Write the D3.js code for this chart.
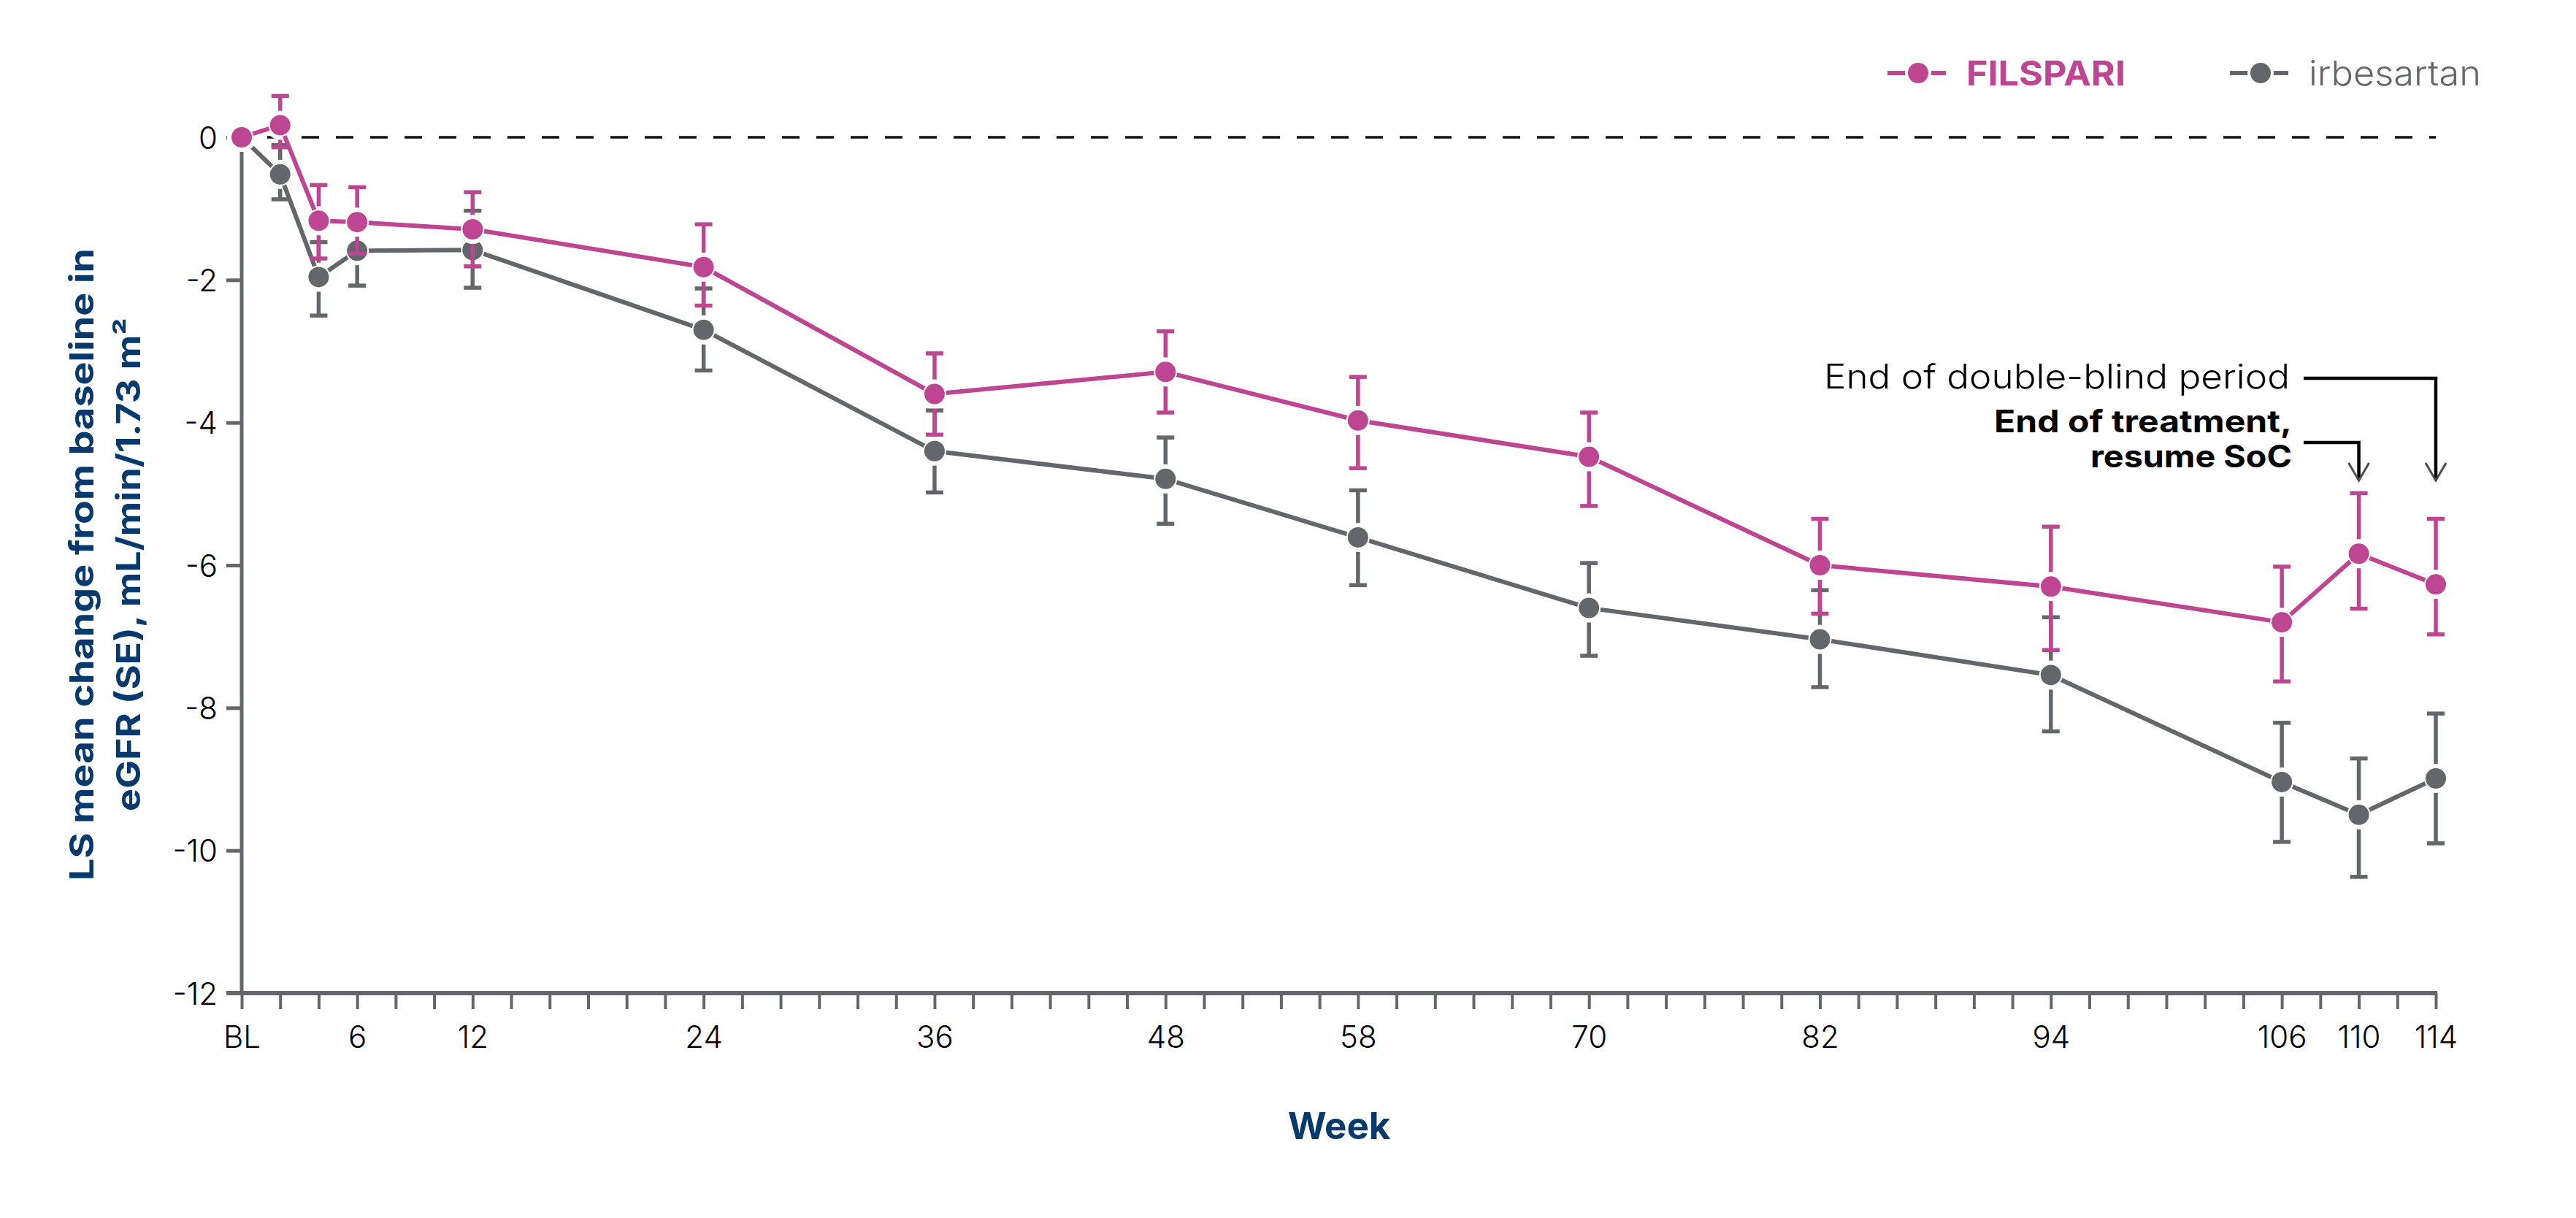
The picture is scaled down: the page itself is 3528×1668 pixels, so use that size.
<!DOCTYPE html>
<html>
<head>
<meta charset="utf-8">
<script src="https://cdn.jsdelivr.net/npm/d3@7"></script>
<style>
  html, body { margin: 0; padding: 0; background: #ffffff; }
  svg { display: block; }
</style>
</head>
<body>
<script>
// ---- Data ----
const weeks      = [0, 2, 4, 6, 12, 24, 36, 48, 58, 70, 82, 94, 106, 110, 114];
const filMean    = [0, 0.17, -1.17, -1.19, -1.29, -1.82, -3.60, -3.29, -3.97, -4.48, -6.00, -6.30, -6.80, -5.84, -6.27];
const filHi      = [0, 0.58, -0.67, -0.70, -0.77, -1.22, -3.03, -2.72, -3.36, -3.86, -5.35, -5.46, -6.02, -4.99, -5.35];
const filLo      = [0, -0.14, -1.70, -1.63, -1.81, -2.36, -4.17, -3.86, -4.64, -5.17, -6.68, -7.19, -7.63, -6.61, -6.97];
const irbMean    = [0, -0.52, -1.96, -1.59, -1.58, -2.70, -4.40, -4.79, -5.61, -6.60, -7.04, -7.54, -9.04, -9.50, -8.99];
const irbHi      = [0, -0.11, -1.47, -1.10, -1.03, -2.12, -3.83, -4.21, -4.95, -5.97, -6.35, -6.73, -8.21, -8.71, -8.08];
const irbLo      = [0, -0.87, -2.50, -2.08, -2.11, -3.27, -4.98, -5.42, -6.28, -7.27, -7.71, -8.33, -9.88, -10.37, -9.90];
const yTicks     = [0, -2, -4, -6, -8, -10, -12];
const xTicks     = d3.range(0, 115, 2);
const xLabels    = {0: "BL", 6: "6", 12: "12", 24: "24", 36: "36", 48: "48", 58: "58", 70: "70", 82: "82", 94: "94", 106: "106", 110: "110", 114: "114"};
const seriesNames = ["FILSPARI", "irbesartan"];
const annoDB     = "End of double-blind period";
const annoEOT    = ["End of treatment,", "resume SoC"];
const yTitle     = ["LS mean change from baseline in", "eGFR (SE), mL/min/1.73 m²"];
const xTitle     = "Week";

// ---- Style ----
const W = 3528, H = 1668;
const MAG = "#be4592", GRY = "#63666a", NAVY = "#063a6f";
const FONT = "Inter, 'Noto Sans', sans-serif";

const svg = d3.select("body").append("svg").attr("width", W).attr("height", H);

const x = d3.scaleLinear().domain([0, 114]).range([331, 3336]);
const y = d3.scaleLinear().domain([0, -12]).range([188, 1360]);

function fit(sel, target) {
  const n = sel.node();
  const w = n.getComputedTextLength();
  if (w > 0 && Math.abs(w - target) / target > 0.02) {
    sel.attr("textLength", target).attr("lengthAdjust", "spacingAndGlyphs");
  }
  return sel;
}

// ---- Axes ----
const yAxis = svg.append("g").attr("transform", `translate(${x(0)},0)`)
  .call(d3.axisLeft(y).tickValues(yTicks).tickSize(21).tickPadding(12).tickFormat(d3.format("d")));
yAxis.select(".domain").remove();
yAxis.selectAll(".tick line").attr("stroke", GRY).attr("stroke-width", 5);
yAxis.selectAll(".tick text").attr("font-family", FONT).attr("font-weight", 300)
  .attr("font-size", 42).attr("fill", "#000").attr("dy", "0.36em")
  .text(d => d === 0 ? "0" : "-" + Math.abs(d));
svg.append("line").attr("x1", x(0)).attr("x2", x(0)).attr("y1", y(0)).attr("y2", y(-12))
  .attr("stroke", GRY).attr("stroke-width", 5);

const xAxis = svg.append("g").attr("transform", `translate(0,${y(-12)})`)
  .call(d3.axisBottom(x).tickValues(xTicks).tickSize(22).tickPadding(23).tickFormat(d => xLabels[d] || ""));
xAxis.select(".domain").remove();
xAxis.selectAll(".tick line").attr("stroke", GRY).attr("stroke-width", 4);
xAxis.selectAll(".tick text").attr("font-family", FONT).attr("font-weight", 300)
  .attr("font-size", 42).attr("fill", "#000").attr("dy", "0.72em");
svg.append("line").attr("x1", 310).attr("x2", x(114) + 2).attr("y1", y(-12)).attr("y2", y(-12))
  .attr("stroke", GRY).attr("stroke-width", 6);

// zero reference line
svg.append("line").attr("x1", 319).attr("x2", x(114)).attr("y1", y(0)).attr("y2", y(0))
  .attr("stroke", "#111").attr("stroke-width", 3.5).attr("stroke-dasharray", "24 23");

// ---- Titles ----
yTitle.forEach((t, i) => {
  const tx = svg.append("text")
    .attr("transform", `translate(${128 + i * 64},773) rotate(-90)`)
    .attr("text-anchor", "middle").attr("font-family", FONT).attr("font-weight", 700)
    .attr("font-size", 45).attr("fill", NAVY).text(t);
  fit(tx, i === 0 ? 866 : 676);
});
fit(svg.append("text").attr("x", 1834).attr("y", 1560).attr("text-anchor", "middle")
  .attr("font-family", FONT).attr("font-weight", 700).attr("font-size", 51)
  .attr("fill", NAVY).text(xTitle), 142);

// ---- Series ----
function drawSeries(mean, lo, hi, color) {
  const pts = weeks.map((w, i) => ({w, m: mean[i], lo: lo[i], hi: hi[i]}));
  const g = svg.append("g");
  const eb = pts.filter(p => p.hi !== p.lo);
  g.selectAll(".eb").data(eb).join("line")
    .attr("x1", p => x(p.w)).attr("x2", p => x(p.w))
    .attr("y1", p => y(p.hi)).attr("y2", p => y(p.lo))
    .attr("stroke", color).attr("stroke-width", 5.5);
  ["hi", "lo"].forEach(k => {
    g.selectAll(".cap" + k).data(eb).join("line")
      .attr("x1", p => x(p.w) - 12).attr("x2", p => x(p.w) + 12)
      .attr("y1", p => y(p[k])).attr("y2", p => y(p[k]))
      .attr("stroke", color).attr("stroke-width", 5.5);
  });
  g.selectAll(".halo").data(pts).join("circle")
    .attr("cx", p => x(p.w)).attr("cy", p => y(p.m)).attr("r", 20).attr("fill", "#fff");
  g.append("path").datum(pts)
    .attr("d", d3.line().x(p => x(p.w)).y(p => y(p.m)))
    .attr("fill", "none").attr("stroke", color).attr("stroke-width", 6).attr("stroke-linejoin", "round");
  g.selectAll(".pt").data(pts).join("circle")
    .attr("cx", p => x(p.w)).attr("cy", p => y(p.m)).attr("r", 15)
    .attr("fill", color).attr("stroke", "#fff").attr("stroke-width", 2);
}
drawSeries(irbMean, irbLo, irbHi, GRY);
drawSeries(filMean, filLo, filHi, MAG);

// ---- Legend ----
function legendItem(cx, color, label, weight, textX, target) {
  const g = svg.append("g");
  g.append("line").attr("x1", cx - 42).attr("x2", cx + 38).attr("y1", 100).attr("y2", 100)
    .attr("stroke", color).attr("stroke-width", 6);
  g.append("circle").attr("cx", cx).attr("cy", 100).attr("r", 18).attr("fill", "#fff");
  g.append("circle").attr("cx", cx).attr("cy", 100).attr("r", 15).attr("fill", color)
    .attr("stroke", "#fff").attr("stroke-width", 2);
  fit(g.append("text").attr("x", textX).attr("y", 117).attr("font-family", FONT)
    .attr("font-weight", weight).attr("font-size", 47).attr("fill", color).text(label), target);
}
legendItem(2627, MAG, seriesNames[0], 700, 2693, 218);
legendItem(3096, GRY, seriesNames[1], 300, 3162, 236);

// ---- Annotations ----
fit(svg.append("text").attr("x", 3136).attr("y", 532).attr("text-anchor", "end")
  .attr("font-family", FONT).attr("font-weight", 300).attr("font-size", 46)
  .attr("fill", "#000").text(annoDB), 638);
fit(svg.append("text").attr("x", 3139).attr("y", 592).attr("text-anchor", "end")
  .attr("font-family", FONT).attr("font-weight", 700).attr("font-size", 42)
  .attr("fill", "#000").text(annoEOT[0]), 408);
fit(svg.append("text").attr("x", 3139).attr("y", 640).attr("text-anchor", "end")
  .attr("font-family", FONT).attr("font-weight", 700).attr("font-size", 42)
  .attr("fill", "#000").text(annoEOT[1]), 276);

function connector(yStart, week) {
  const xe = x(week);
  svg.append("path").attr("d", `M3155,${yStart} H${xe} V656`)
    .attr("fill", "none").attr("stroke", "#000").attr("stroke-width", 4.5);
  svg.append("path").attr("d", `M${xe - 14},634 L${xe},658 L${xe + 14},634`)
    .attr("fill", "none").attr("stroke", "#4a4d52").attr("stroke-width", 3);
}
connector(518, 114);
connector(606, 110);
</script>
</body>
</html>
